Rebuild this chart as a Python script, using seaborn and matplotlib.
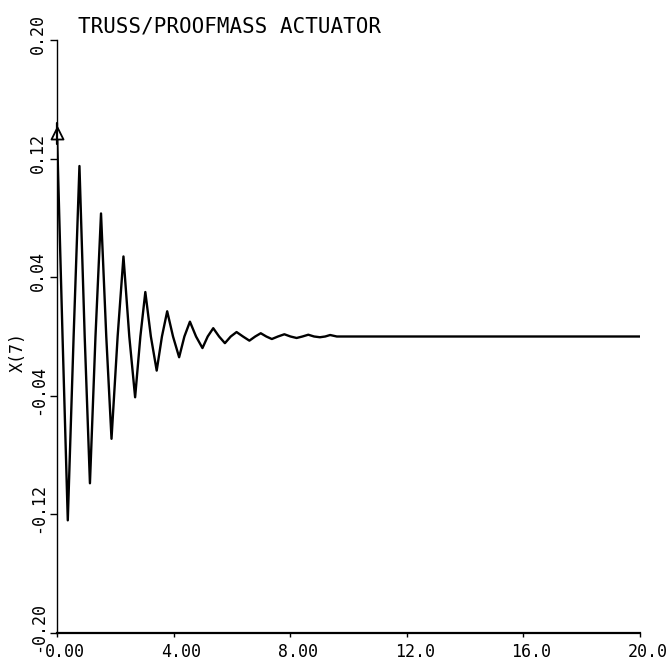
import matplotlib
matplotlib.use("Agg")
import matplotlib.pyplot as plt
import matplotlib.transforms as mtransforms
import seaborn as sns
import pandas as pd

# Response X(7) of the truss with proof-mass actuator: extrema and zero crossings
time = [0.00, 0.19, 0.37, 0.57, 0.77, 0.95, 1.13, 1.32, 1.51, 1.69,
        1.87, 2.08, 2.28, 2.48, 2.68, 2.86, 3.03, 3.22, 3.42, 3.60,
        3.78, 3.98, 4.19, 4.37, 4.56, 4.77, 4.99, 5.17, 5.36, 5.56,
        5.76, 5.96, 6.16, 6.38, 6.60, 6.80, 6.99, 7.18, 7.37, 7.58,
        7.80, 8.01, 8.22, 8.42, 8.62, 8.82, 9.02, 9.20, 9.37, 9.60,
        20.0]
x7 = [0.137, 0.0, -0.124, 0.0, 0.115, 0.0, -0.099, 0.0, 0.083, 0.0,
      -0.069, 0.0, 0.054, 0.0, -0.041, 0.0, 0.030, 0.0, -0.023, 0.0,
      0.017, 0.0, -0.014, 0.0, 0.010, 0.0, -0.0078, 0.0, 0.0056, 0.0,
      -0.0045, 0.0, 0.0030, 0.0, -0.0028, 0.0, 0.0022, 0.0, -0.0017, 0.0,
      0.0015, 0.0, -0.0010, 0.0, 0.0012, 0.0, -0.0005, 0.0, 0.0010, 0.0,
      0.0]

x_ticks = [0, 4, 8, 12, 16, 20]
x_tick_labels = ["0.00", "4.00", "8.00", "12.0", "16.0", "20.0"]
y_ticks = [-0.20, -0.12, -0.04, 0.04, 0.12, 0.20]
y_tick_labels = ["-0.20", "-0.12", "-0.04", "0.04", "0.12", "0.20"]
title = "TRUSS/PROOFMASS ACTUATOR"
y_label = "X(7)"

sns.set_style("white")
plt.rcParams["font.family"] = ["DejaVu Sans Mono", "DejaVu Sans"]

df = pd.DataFrame({"time": time, "x7": x7})

fig = plt.figure(figsize=(6.69, 6.68), dpi=100)
W, H = 669, 668
ax = fig.add_axes([57 / W, 1 - 633 / H, (640 - 57) / W, (633 - 40) / H])

sns.lineplot(data=df, x="time", y="x7", color="black", linewidth=1.7,
             sort=False, estimator=None, ax=ax,
             solid_joinstyle="round", solid_capstyle="round")
# symbol on the first sample
sns.scatterplot(x=time[:1], y=x7[:1], marker="^", s=75, facecolor="white",
                edgecolor="black", linewidth=1.3, zorder=5, clip_on=False,
                ax=ax)
ax.plot(time[:1] * 2, [x7[0] - 0.007, x7[0] + 0.007], color="black",
        linewidth=1.6, zorder=6, clip_on=False)

ax.set_xlim(0, 20)
ax.set_ylim(-0.20, 0.20)
ax.set_xticks(x_ticks)
ax.set_xticklabels(x_tick_labels)
ax.set_yticks(y_ticks)
ax.set_yticklabels(y_tick_labels, rotation=90, va="center")
ax.set_xlabel("")
ax.set_ylabel("")

for side in ("top", "right"):
    ax.spines[side].set_visible(False)
ax.spines["left"].set_linewidth(1.0)
ax.spines["bottom"].set_linewidth(1.6)
for side in ("left", "bottom"):
    ax.spines[side].set_color("black")

ax.tick_params(axis="y", direction="out", length=5, width=1.0, pad=2,
               labelsize=12, colors="black", left=True)
ax.tick_params(axis="x", direction="out", length=3, width=1.0, pad=4,
               labelsize=12, colors="black", bottom=True)

shift_x = mtransforms.ScaledTranslation(8 / 100, 0, fig.dpi_scale_trans)
for lab in ax.get_xticklabels():
    lab.set_transform(lab.get_transform() + shift_x)
shift_y = mtransforms.ScaledTranslation(0, 6 / 100, fig.dpi_scale_trans)
for lab in ax.get_yticklabels():
    lab.set_transform(lab.get_transform() + shift_y)

fig.text(78 / W, 1 - 27 / H, title, ha="left", va="center", fontsize=15,
         color="black")
fig.text(18 / W, 1 - 352 / H, y_label, ha="center", va="center",
         rotation=90, fontsize=12, color="black")

fig.savefig("out.png", dpi=100, facecolor="white")
